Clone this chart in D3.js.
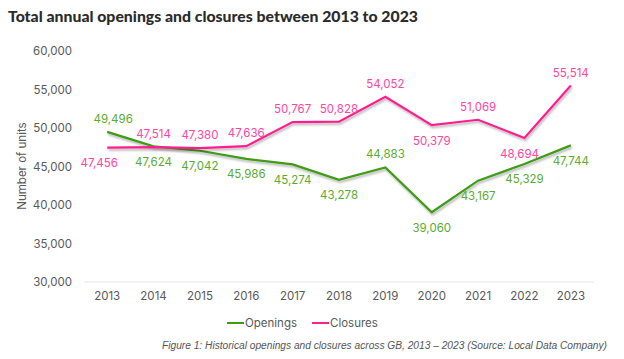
<!DOCTYPE html>
<html><head><meta charset="utf-8">
<script src="https://cdn.jsdelivr.net/npm/d3@7/dist/d3.min.js"></script>
<style>body{margin:0;background:#fff}svg{display:block}</style>
</head><body><svg id="c" width="624" height="359"></svg>
<script>
const years = ["2013","2014","2015","2016","2017","2018","2019","2020","2021","2022","2023"];
const openings = [49496,47624,47042,45986,45274,43278,44883,39060,43167,45329,47744];
const closures = [47456,47514,47380,47636,50767,50828,54052,50379,51069,48694,55514];
const yTicks = [30000,35000,40000,45000,50000,55000,60000];
// label placement: 1 = above point, -1 = below point
const openPlace = [1,-1,-1,-1,-1,-1,1,-1,-1,-1,-1];
const closePlace = [-1,1,1,1,1,1,1,-1,1,-1,1];
const openDx = [6,0,0,0,0,0,0,0,0,0,0];
const closeDx = [-8,0,0,0,0,0,0,0,0,-5,0];

const svg = d3.select("#c");
const font = "Inter, 'Open Sans', sans-serif";
const GREEN = "#3f9b17", GREEN_L = "#5aac2e", PINK = "#ff1f8f", PINK_L = "#ff45a2";

const defs = svg.append("defs");
const f = defs.append("filter").attr("id","sh").attr("x","-10%").attr("y","-20%").attr("width","120%").attr("height","160%");
f.append("feDropShadow").attr("dx",1).attr("dy",2).attr("stdDeviation",1.2).attr("flood-color","#000").attr("flood-opacity",0.3);

const x = d3.scaleBand().domain(years).range([84,594]);
const y = d3.scaleLinear().domain([30000,60000]).range([282,51]);
const cx = d => x(d) + x.bandwidth()/2;

svg.append("text").attr("x",8).attr("y",22)
  .attr("font-family","Lato, 'Open Sans', sans-serif").attr("font-weight",900).attr("font-size",15.5)
  .attr("fill","#2b2b2b").attr("textLength",410).attr("lengthAdjust","spacingAndGlyphs")
  .text("Total annual openings and closures between 2013 to 2023");

// baseline
svg.append("line").attr("x1",84).attr("x2",594).attr("y1",y(30000)).attr("y2",y(30000))
  .attr("stroke","#e6e6e6").attr("stroke-width",1);

// y axis
const ya = svg.append("g").attr("transform","translate(72,0)")
  .call(d3.axisLeft(y).tickValues(yTicks).tickSize(0).tickPadding(0).tickFormat(d3.format(",")));
ya.select(".domain").remove();
ya.selectAll("text").attr("font-family",font).attr("font-size",11.5).attr("fill","#595959");

// x axis
const xa = svg.append("g").attr("transform","translate(0,290)")
  .call(d3.axisBottom(x).tickSize(0).tickPadding(2));
xa.select(".domain").remove();
xa.selectAll("text").attr("font-family",font).attr("font-size",11.5).attr("fill","#595959");

svg.append("text").attr("transform","translate(26,166) rotate(-90)").attr("text-anchor","middle")
  .attr("font-family",font).attr("font-size",11.5).attr("fill","#595959").text("Number of units");

const line = d3.line().x((d,i)=>cx(years[i])).y(d=>y(d));
svg.append("path").datum(openings).attr("d",line).attr("fill","none").attr("stroke",GREEN).attr("stroke-width",2.2).attr("filter","url(#sh)");
svg.append("path").datum(closures).attr("d",line).attr("fill","none").attr("stroke",PINK).attr("stroke-width",2.2).attr("filter","url(#sh)");

function labels(vals, place, dx, col){
  svg.append("g").selectAll("text").data(vals).join("text")
    .attr("x",(d,i)=>cx(years[i])+dx[i])
    .attr("y",(d,i)=>y(d) + (place[i]>0 ? -13 : 15.5))
    .attr("dy","0.35em").attr("text-anchor","middle")
    .attr("font-family",font).attr("font-size",11.5).attr("fill",col)
    .text(d=>d3.format(",")(d));
}
labels(openings, openPlace, openDx, GREEN_L);
labels(closures, closePlace, closeDx, PINK_L);

// legend
const lg = svg.append("g");
[[227,"Openings",GREEN],[312,"Closures",PINK]].forEach(([lx,t,c])=>{
  lg.append("line").attr("x1",lx).attr("x2",lx+17).attr("y1",323).attr("y2",323).attr("stroke",c).attr("stroke-width",2);
  lg.append("text").attr("x",lx+18).attr("y",323).attr("dy","0.35em").attr("font-family",font).attr("font-size",11.5).attr("fill","#595959").text(t);
});

svg.append("text").attr("x",607).attr("y",345).attr("dy","0.35em").attr("text-anchor","end")
  .attr("font-family","'Liberation Sans', Arial, sans-serif").attr("font-style","italic").attr("font-size",10)
  .attr("fill","#555").attr("textLength",445).attr("lengthAdjust","spacingAndGlyphs")
  .text("Figure 1: Historical openings and closures across GB, 2013 – 2023 (Source: Local Data Company)");
</script></body></html>
